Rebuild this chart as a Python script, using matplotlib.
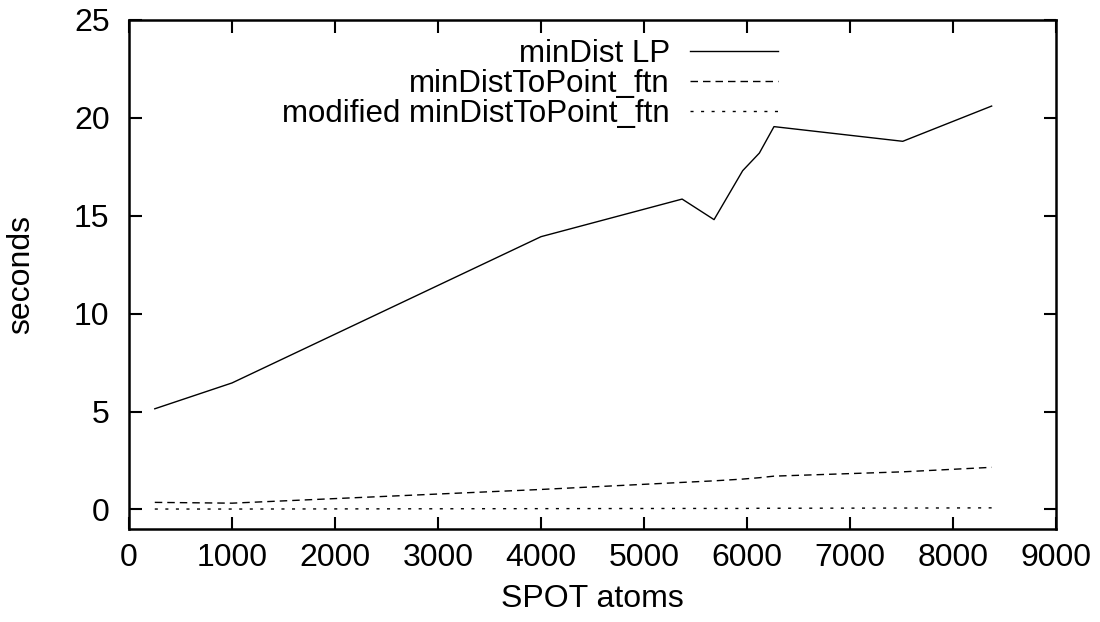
import numpy as np
import matplotlib
matplotlib.use("Agg")
from matplotlib import pyplot as plt

plt.rcParams['font.family'] = ['Liberation Sans', 'DejaVu Sans']

# SPOT atoms vs seconds
atoms = [250, 1000, 4000, 5370, 5680, 5958, 6120, 6262, 7512, 8375]
min_dist_lp = [5.14, 6.46, 13.93, 15.85, 14.8, 17.3, 18.2, 19.55, 18.8, 20.6]
min_dist_ftn = [0.36, 0.32, 1.02, 1.38, 1.46, 1.55, 1.62, 1.70, 1.92, 2.15]
mod_min_dist_ftn = [0.02, 0.02, 0.04, 0.05, 0.05, 0.05, 0.06, 0.06, 0.07, 0.08]

labels = ['minDist LP', 'minDistToPoint_ftn', 'modified minDistToPoint_ftn']
x_ticks = np.arange(0, 9001, 1000)
y_ticks = np.arange(0, 26, 5)

fs = 23

fig = plt.figure(figsize=(11, 6.22), dpi=100)
ax = fig.add_axes([0.1173, 0.1495, 0.8427, 0.8185])

ax.plot(atoms, min_dist_lp, color='black', lw=1.0, label=labels[0])
ax.plot(atoms, min_dist_ftn, color='black', lw=1.0, dashes=(5.4, 3.6), label=labels[1])
ax.plot(atoms, mod_min_dist_ftn, color='black', lw=1.0, dashes=(2.2, 5.4), label=labels[2])

ax.set_xlim(0, 9000)
ax.set_ylim(-1, 25)
ax.set_xticks(x_ticks)
ax.set_yticks(y_ticks)
ax.tick_params(direction='in', length=9, width=1.5, top=True, right=True,
               labelsize=fs)
ax.tick_params(axis='y', pad=14)
ax.tick_params(axis='x', pad=10)
for s in ax.spines.values():
    s.set_linewidth(1.8)

ax.set_xlabel('SPOT atoms', fontsize=fs, labelpad=8)
ax.set_ylabel('seconds', fontsize=fs, labelpad=27)

# legend: text right-aligned, line sample on the right like gnuplot
leg = ax.legend(loc='upper right', bbox_to_anchor=(0.70, 0.962), frameon=False,
                markerfirst=False, fontsize=22.5, handlelength=2.8,
                labelspacing=0.0, handletextpad=0.66, borderpad=0.0,
                borderaxespad=0.0)

fig.savefig('out.png', dpi=100)
